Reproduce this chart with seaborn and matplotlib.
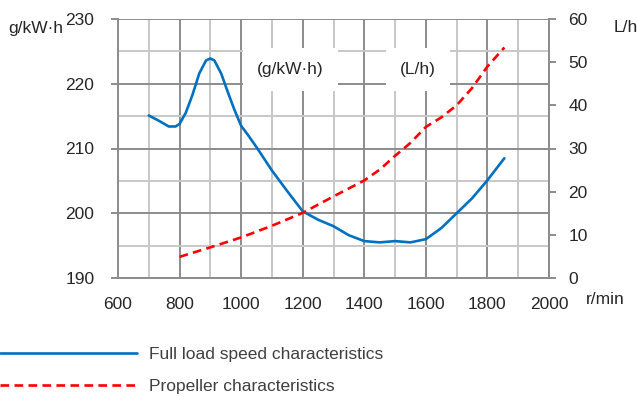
import numpy as np
import pandas as pd
import seaborn as sns
import matplotlib.pyplot as plt
from matplotlib.lines import Line2D
from matplotlib.ticker import MultipleLocator

# full load speed characteristics, g/kW·h
speed_full = [700, 732, 765, 787, 800, 820, 842, 864, 886, 900, 913, 935,
              956, 978, 1000, 1022, 1050, 1100, 1150, 1200, 1250, 1300,
              1350, 1400, 1450, 1500, 1550, 1600, 1650, 1700, 1750, 1800, 1855]
fuel_full = [215.1, 214.3, 213.4, 213.4, 213.8, 215.5, 218.3, 221.6, 223.6,
             223.9, 223.6, 221.6, 218.8, 216.0, 213.5, 212.1, 210.2, 206.6,
             203.4, 200.3, 199.0, 198.0, 196.6, 195.7, 195.5, 195.7, 195.5,
             196.0, 197.7, 200.0, 202.3, 205.1, 208.5]

# propeller characteristics, L/h
speed_prop = [800, 900, 1000, 1100, 1200, 1300, 1400, 1450, 1500, 1550,
              1600, 1650, 1700, 1750, 1800, 1855]
fuel_prop = [4.9, 7.1, 9.4, 12.1, 15.1, 18.9, 22.6, 25.1, 28.3, 31.3,
             35.0, 37.2, 40.0, 44.0, 49.0, 53.4]

label_full = "Full load speed characteristics"
label_prop = "Propeller characteristics"

sns.set_style("white")
plt.rcParams['font.family'] = ['Liberation Sans', 'DejaVu Sans']

blue = "#0070C0"
red = "#FF0000"
major = "#8c8c8c"
minor = "#c8c8c8"
fs = 12.5

fig = plt.figure(figsize=(6.38, 3.97), dpi=100)
ax = fig.add_axes([118 / 638, 1 - 278 / 397, (549 - 118) / 638, (278 - 19) / 397])

df_full = pd.DataFrame({"speed": speed_full, "fuel": fuel_full})
df_prop = pd.DataFrame({"speed": speed_prop, "fuel": fuel_prop})

sns.lineplot(data=df_full, x="speed", y="fuel", ax=ax, color=blue, lw=1.9, zorder=5,
             solid_joinstyle="round", solid_capstyle="round")
ax.set_xlim(600, 2000)
ax.set_ylim(190, 230)
ax.xaxis.set_major_locator(MultipleLocator(200))
ax.xaxis.set_minor_locator(MultipleLocator(100))
ax.yaxis.set_major_locator(MultipleLocator(10))
ax.yaxis.set_minor_locator(MultipleLocator(5))
ax.grid(which="major", color=major, lw=1.4, zorder=0)
ax.grid(which="minor", color=minor, lw=1.4, zorder=0)
ax.set_axisbelow(True)
ax.set_xlabel("")
ax.set_ylabel("")
for s in ["top", "right"]:
    ax.spines[s].set_visible(False)
for s in ["left", "bottom"]:
    ax.spines[s].set_color(major)
    ax.spines[s].set_linewidth(1.4)
ax.tick_params(axis="y", which="major", length=5, width=1.4, color=major, pad=12, labelsize=fs)
ax.tick_params(axis="x", which="major", length=5, width=1.4, color=major, pad=9, labelsize=fs)
ax.tick_params(which="minor", length=0)

ax2 = ax.twinx()
sns.lineplot(data=df_prop, x="speed", y="fuel", ax=ax2, color=red, lw=1.9,
             linestyle=(0, (3.3, 2)), zorder=5)
ax2.set_ylim(0, 60)
ax2.yaxis.set_major_locator(MultipleLocator(10))
ax2.set_ylabel("")
ax2.grid(False)
for s in ["top", "left", "bottom"]:
    ax2.spines[s].set_visible(False)
ax2.spines["right"].set_color(major)
ax2.spines["right"].set_linewidth(1.4)
ax2.tick_params(axis="y", length=5, width=1.4, color=major, pad=9, labelsize=fs)

# labels inside the plot with white boxes
box = dict(boxstyle="square,pad=0.8", facecolor="white", edgecolor="none")
ax.text(1160, 222.2, "(g/kW·h)", ha="center", va="center", fontsize=fs, bbox=box, zorder=3)
ax.text(1574, 222.2, "(L/h)", ha="center", va="center", fontsize=fs, bbox=box, zorder=3)

# axis unit labels
fig.text(63 / 638, 1 - 29 / 397, "g/kW·h", ha="right", va="center", fontsize=fs)
fig.text(614 / 638, 1 - 27 / 397, "L/h", ha="left", va="center", fontsize=fs)
fig.text(586 / 638, 1 - 300 / 397, "r/min", ha="left", va="center", fontsize=fs)

handles = [Line2D([], [], color=blue, lw=1.9),
           Line2D([], [], color=red, lw=1.9, linestyle=(0, (3.3, 2)))]
leg = fig.legend(handles, [label_full, label_prop], loc="upper left",
                 bbox_to_anchor=(0, 1 - 347 / 397), frameon=False,
                 borderaxespad=0, borderpad=0, handlelength=7.9,
                 handletextpad=0.7, labelspacing=0.95, fontsize=fs)
for t in leg.get_texts():
    t.set_color("#404040")

fig.savefig("out.png", dpi=100)
